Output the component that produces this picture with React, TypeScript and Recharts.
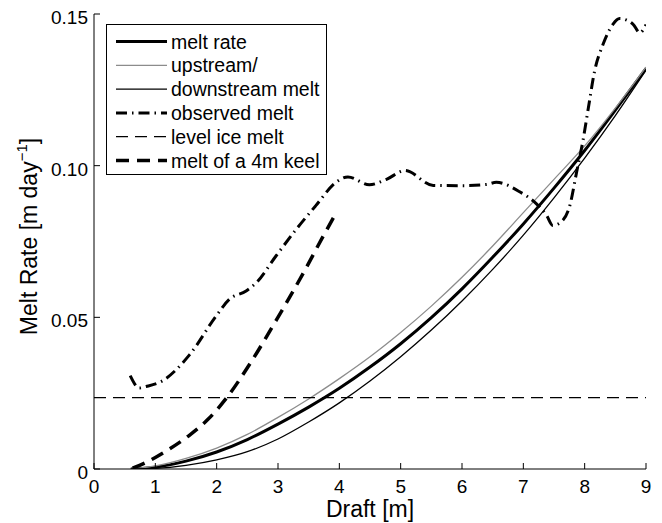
import { LineChart, Line, XAxis, YAxis, Label } from "recharts";

const FONT = '"Liberation Sans", Arial, Helvetica, sans-serif';

const xTicks = [0, 1, 2, 3, 4, 5, 6, 7, 8, 9];
const yTicks = [0, 0.05, 0.1, 0.15];
const yTickLabels = ["0", "0.05", "0.10", "0.15"];

// model curves share one draft grid
const modelDraft = [0.6, 1, 1.5, 2, 2.5, 3, 3.5, 4, 4.5, 5, 5.5, 6, 6.5, 7, 7.5, 8, 8.5, 9];
const meltRate = [0, 0.0006, 0.0026, 0.0056, 0.0097, 0.0148, 0.0204, 0.0266, 0.0336, 0.0413, 0.0499, 0.0594, 0.0698, 0.0808, 0.0926, 0.105, 0.1183, 0.132];
const upstreamMelt = [0, 0.001, 0.0035, 0.0069, 0.0114, 0.017, 0.0231, 0.0298, 0.037, 0.045, 0.0537, 0.0632, 0.0735, 0.0845, 0.0955, 0.1065, 0.119, 0.1325];
const downstreamMelt = [0, 0.0002, 0.0012, 0.003, 0.0057, 0.0099, 0.0155, 0.0218, 0.029, 0.037, 0.0458, 0.0554, 0.0658, 0.0771, 0.0894, 0.1025, 0.1165, 0.1315];

const observedDraft = [0.59, 0.74, 0.85, 1.1, 1.56, 1.99, 2.21, 2.48, 2.65, 2.97, 3.3, 3.62, 3.95, 4.14, 4.49, 4.77, 5.07, 5.53, 6.02, 6.4, 6.56, 6.94, 7.21, 7.38, 7.48, 7.62, 7.76, 7.87, 7.97, 8.06, 8.16, 8.3, 8.46, 8.57, 8.79, 8.9, 9];
const observedMelt = [0.0308, 0.0267, 0.0272, 0.0289, 0.0377, 0.0504, 0.056, 0.0587, 0.0615, 0.0703, 0.0791, 0.0869, 0.0946, 0.0963, 0.0937, 0.0955, 0.0984, 0.0935, 0.0934, 0.0938, 0.0945, 0.0914, 0.0875, 0.0836, 0.0803, 0.0815, 0.087, 0.098, 0.108, 0.119, 0.131, 0.14, 0.1466, 0.1485, 0.1466, 0.1438, 0.1465];

const levelDraft = [0, 9];
const levelMelt = [0.0235, 0.0235];

const keelDraft = [0.63, 0.85, 1.0, 1.23, 1.56, 1.85, 2.16, 2.54, 2.97, 3.41, 3.73, 3.95];
const keelMelt = [0.0003, 0.0022, 0.0038, 0.0066, 0.0112, 0.0162, 0.0234, 0.0346, 0.049, 0.0645, 0.0765, 0.0845];

const toPoints = (xs: number[], ys: number[]) => xs.map((x, i) => ({ x, y: ys[i] }));

const series = [
  { name: "melt rate", data: toPoints(modelDraft, meltRate), stroke: "#000", width: 3, dash: undefined },
  { name: "upstream/", data: toPoints(modelDraft, upstreamMelt), stroke: "#8c8c8c", width: 1.3, dash: undefined },
  { name: "downstream melt", data: toPoints(modelDraft, downstreamMelt), stroke: "#000", width: 1.3, dash: undefined },
  { name: "observed melt", data: toPoints(observedDraft, observedMelt), stroke: "#000", width: 3, dash: "11 5 1.5 5" },
  { name: "level ice melt", data: toPoints(levelDraft, levelMelt), stroke: "#000", width: 1.3, dash: "12 7" },
  { name: "melt of a 4m keel", data: toPoints(keelDraft, keelMelt), stroke: "#000", width: 3.5, dash: "13 8" },
];

const TICK_LEN = 6;

function BottomTick({ x, y, payload }: any) {
  return (
    <g>
      <line x1={x} y1={y} x2={x} y2={y - TICK_LEN} stroke="#000" />
      <text x={x} y={y + 24} textAnchor="middle" fontSize={19} fontFamily={FONT} fill="#000">
        {payload.value}
      </text>
    </g>
  );
}

function TopTick({ x, y }: any) {
  return <line x1={x} y1={y} x2={x} y2={y + TICK_LEN} stroke="#000" />;
}

function LeftTick({ x, y, payload }: any) {
  const label = yTickLabels[yTicks.indexOf(payload.value)];
  return (
    <g>
      <line x1={x} y1={y} x2={x + TICK_LEN} y2={y} stroke="#000" />
      <text x={x - 6} y={y + 10} textAnchor="end" fontSize={19} fontFamily={FONT} fill="#000">
        {label}
      </text>
    </g>
  );
}

function RightTick({ x, y }: any) {
  return <line x1={x} y1={y} x2={x - TICK_LEN} y2={y} stroke="#000" />;
}

function YTitle({ viewBox }: any) {
  const cy = viewBox.y + viewBox.height / 2 - 5;
  return (
    <text transform={`translate(37,${cy}) rotate(-90)`} textAnchor="middle" fontSize={23} fontFamily={FONT} fill="#000">
      Melt Rate [m day
      <tspan fontSize={15} dy={-10}>−1</tspan>
      <tspan dy={10}>]</tspan>
    </text>
  );
}

function XTitle({ viewBox }: any) {
  return (
    <text x={viewBox.x + viewBox.width / 2} y={517} textAnchor="middle" fontSize={23} fontFamily={FONT} fill="#000">
      Draft [m]
    </text>
  );
}

function LegendBox() {
  const rowH = 23.8;
  return (
    <svg
      width={221}
      height={151}
      style={{ position: "absolute", left: 106, top: 24, background: "#fff" }}
    >
      <rect x={0.5} y={0.5} width={220} height={150} fill="#fff" stroke="#000" />
      {series.map((s, i) => {
        const cy = 17.5 + i * rowH;
        return (
          <g key={s.name}>
            <line x1={10} y1={cy} x2={61} y2={cy} stroke={s.stroke} strokeWidth={s.width} strokeDasharray={s.dash} />
            <text x={65} y={cy + 7} fontSize={19.5} fontFamily={FONT} fill="#000">
              {s.name}
            </text>
          </g>
        );
      })}
    </svg>
  );
}

export default function App() {
  return (
    <div style={{ position: "absolute", left: 0, top: 0, width: 662, height: 523, background: "#fff" }}>
      <LineChart width={662} height={523} margin={{ top: 14, right: 16, bottom: 0, left: 0 }}>
        <XAxis
          xAxisId={0}
          dataKey="x"
          type="number"
          domain={[0, 9]}
          ticks={xTicks}
          allowDataOverflow
          height={54}
          tickSize={0}
          tickMargin={0}
          tickLine={false}
          axisLine={{ stroke: "#000" }}
          tick={<BottomTick />}
          label={<Label content={<XTitle />} />}
        />
        <XAxis
          xAxisId="top"
          orientation="top"
          type="number"
          domain={[0, 9]}
          ticks={xTicks}
          allowDataOverflow
          height={0}
          tickSize={0}
          tickMargin={0}
          tickLine={false}
          axisLine={{ stroke: "#000" }}
          tick={<TopTick />}
        />
        <YAxis
          yAxisId={0}
          type="number"
          domain={[0, 0.15]}
          ticks={yTicks}
          allowDataOverflow
          width={94}
          tickSize={0}
          tickMargin={0}
          tickLine={false}
          axisLine={{ stroke: "#000" }}
          tick={<LeftTick />}
          label={<Label content={<YTitle />} />}
        />
        <YAxis
          yAxisId="right"
          orientation="right"
          type="number"
          domain={[0, 0.15]}
          ticks={yTicks}
          allowDataOverflow
          width={0}
          tickSize={0}
          tickMargin={0}
          tickLine={false}
          axisLine={{ stroke: "#000" }}
          tick={<RightTick />}
        />
        {series.map((s) => (
          <Line
            key={s.name}
            xAxisId={0}
            yAxisId={0}
            data={s.data}
            dataKey="y"
            name={s.name}
            type="monotone"
            stroke={s.stroke}
            strokeWidth={s.width}
            strokeDasharray={s.dash}
            dot={false}
            activeDot={false}
            isAnimationActive={false}
          />
        ))}
      </LineChart>
      <LegendBox />
    </div>
  );
}
